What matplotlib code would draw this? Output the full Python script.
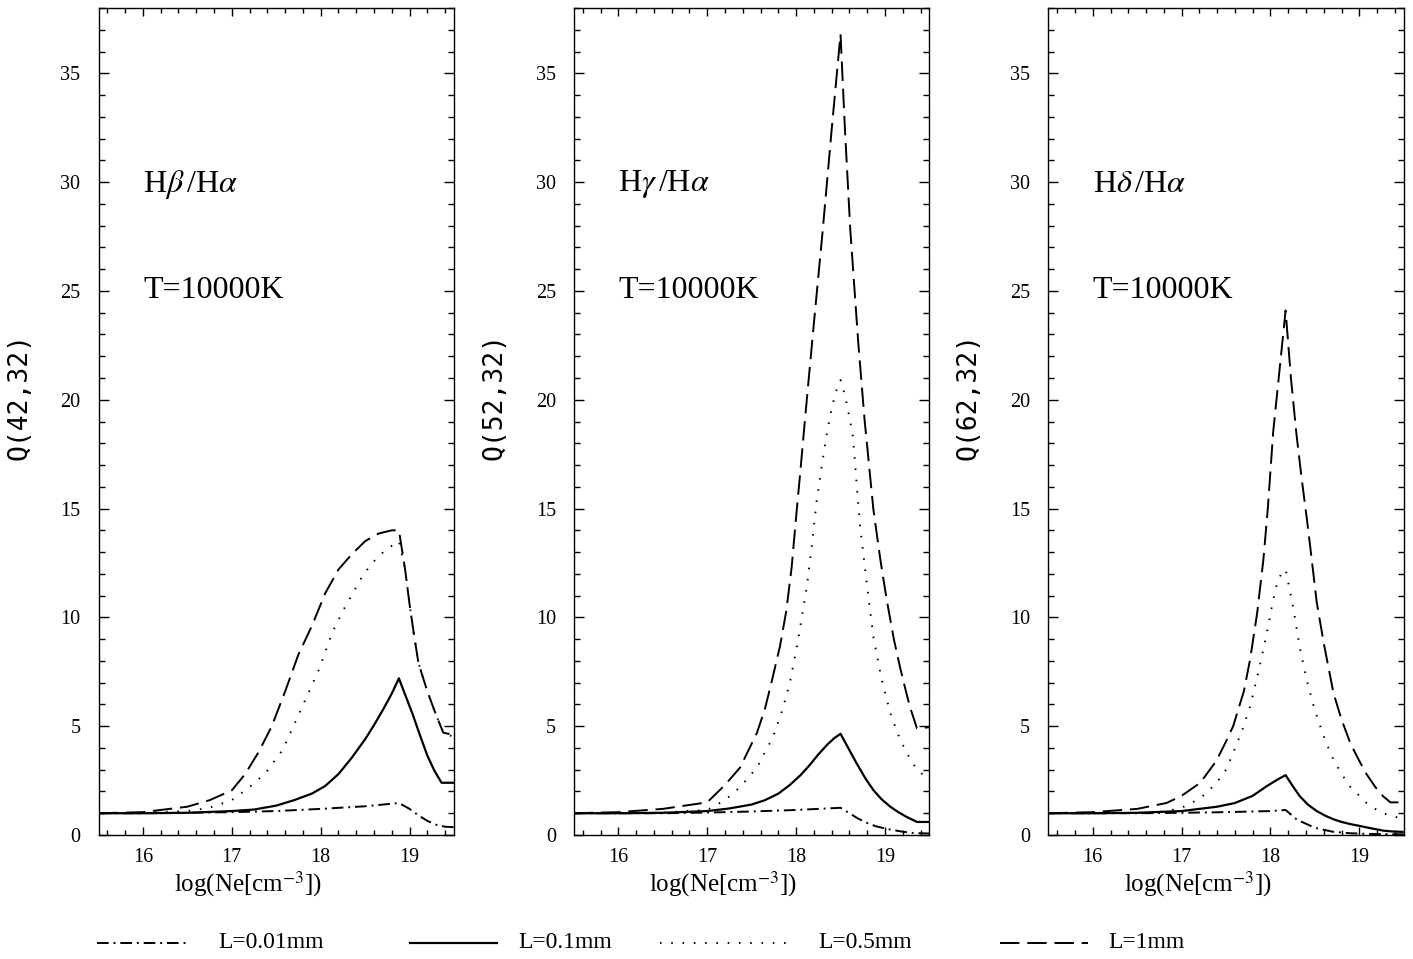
import matplotlib
matplotlib.use("Agg")
import matplotlib.pyplot as plt
from matplotlib.ticker import MultipleLocator

plt.rcParams['font.family'] = ['Liberation Serif', 'DejaVu Serif']
plt.rcParams['mathtext.fontset'] = 'stix'

# ---- data: log(Ne) vs Q ----
# panel 1: Hbeta/Halpha, Q(42,32)
p1_dd_x = [15.5, 16.0, 16.5, 17.0, 17.5, 18.0, 18.5, 18.88, 19.0, 19.1, 19.2, 19.3, 19.4, 19.5]
p1_dd_y = [1.0, 1.0, 1.02, 1.05, 1.1, 1.2, 1.32, 1.47, 1.2, 0.9, 0.65, 0.47, 0.38, 0.36]
p1_so_x = [15.5, 16.0, 16.5, 17.0, 17.25, 17.5, 17.7, 17.9, 18.05, 18.2, 18.35, 18.5, 18.6, 18.7,
           18.8, 18.88, 18.95, 19.03, 19.12, 19.2, 19.28, 19.36, 19.5]
p1_so_y = [1.0, 1.0, 1.02, 1.1, 1.17, 1.35, 1.6, 1.9, 2.25, 2.8, 3.55, 4.4, 5.05, 5.75,
           6.5, 7.2, 6.45, 5.6, 4.55, 3.65, 2.95, 2.4, 2.4]
p1_do_x = [15.5, 16.0, 16.5, 16.75, 17.0, 17.2, 17.38, 17.57, 17.76, 17.98, 18.13, 18.25, 18.36,
           18.47, 18.58, 18.73, 18.88, 18.95, 19.0, 19.05, 19.1, 19.2, 19.3, 19.38, 19.5]
p1_do_y = [1.0, 1.02, 1.1, 1.25, 1.6, 2.2, 2.85, 3.9, 5.6, 7.6, 9.3, 10.3, 11.1,
           11.9, 12.5, 13.1, 13.5, 12.2, 10.6, 9.2, 7.9, 6.6, 5.5, 4.7, 4.5]
p1_da_x = [15.5, 16.0, 16.5, 16.75, 17.0, 17.15, 17.3, 17.45, 17.6, 17.75, 17.9, 18.05, 18.2,
           18.35, 18.5, 18.65, 18.8, 18.88, 18.95, 19.0, 19.05, 19.1, 19.2, 19.3, 19.38, 19.5]
p1_da_y = [1.0, 1.05, 1.3, 1.6, 2.05, 2.8, 3.8, 5.0, 6.6, 8.3, 9.6, 11.1, 12.2,
           12.9, 13.5, 13.85, 14.0, 14.0, 12.2, 10.6, 9.2, 7.9, 6.6, 5.5, 4.7, 4.6]

# panel 2: Hgamma/Halpha, Q(52,32)
p2_dd_x = [15.5, 16.0, 16.5, 17.0, 17.5, 18.0, 18.5, 18.6, 18.7, 18.8, 18.9, 19.0, 19.1, 19.2, 19.3, 19.4, 19.5]
p2_dd_y = [1.0, 1.0, 1.0, 1.03, 1.08, 1.15, 1.25, 1.0, 0.75, 0.55, 0.4, 0.3, 0.22, 0.15, 0.1, 0.08, 0.07]
p2_so_x = [15.5, 16.0, 16.5, 17.0, 17.25, 17.5, 17.65, 17.8, 17.93, 18.05, 18.15, 18.25, 18.35, 18.43, 18.5,
           18.58, 18.68, 18.78, 18.87, 18.96, 19.06, 19.15, 19.24, 19.3, 19.36, 19.5]
p2_so_y = [1.0, 1.0, 1.02, 1.1, 1.22, 1.4, 1.6, 1.9, 2.3, 2.75, 3.2, 3.7, 4.15, 4.45, 4.65,
           4.05, 3.3, 2.6, 2.06, 1.65, 1.3, 1.05, 0.84, 0.72, 0.6, 0.6]
p2_do_x = [15.5, 16.0, 16.5, 17.0, 17.2, 17.37, 17.56, 17.74, 17.85, 17.93, 18.02, 18.12, 18.18, 18.23,
           18.29, 18.34, 18.4, 18.45, 18.5, 18.55, 18.6, 18.64, 18.68, 18.72, 18.8, 18.87, 18.96, 19.06,
           19.15, 19.24, 19.33, 19.43, 19.5]
p2_do_y = [1.0, 1.0, 1.03, 1.15, 1.6, 2.2, 3.1, 4.5, 5.8, 7.0, 8.9, 11.4, 13.4, 15.3,
           17.0, 18.3, 19.6, 20.4, 20.9, 20.2, 19.2, 18.3, 16.2, 14.2, 11.4, 9.1, 7.2, 5.6,
           4.6, 3.8, 3.2, 2.75, 2.7]
p2_da_x = [15.5, 16.0, 16.5, 17.0, 17.2, 17.37, 17.56, 17.65, 17.74, 17.82, 17.89, 17.95, 18.0, 18.05,
           18.1, 18.2, 18.3, 18.4, 18.5, 18.55, 18.61, 18.7, 18.77, 18.87, 18.95, 19.02, 19.1, 19.17,
           19.23, 19.28, 19.36, 19.5]
p2_da_y = [1.0, 1.05, 1.2, 1.5, 2.3, 3.1, 4.7, 5.8, 7.3, 8.7, 10.3, 12.3, 14.6, 16.8,
           19.1, 23.5, 27.8, 32.4, 36.8, 32.4, 27.8, 22.6, 19.1, 14.95, 12.6, 10.8, 9.0, 7.7,
           6.7, 5.9, 4.9, 4.95]

# panel 3: Hdelta/Halpha, Q(62,32)
p3_dd_x = [15.5, 16.0, 16.5, 17.0, 17.5, 18.0, 18.17, 18.3, 18.5, 18.7, 18.9, 19.1, 19.3, 19.5]
p3_dd_y = [1.0, 1.0, 1.0, 1.02, 1.05, 1.1, 1.15, 0.7, 0.33, 0.15, 0.08, 0.05, 0.04, 0.03]
p3_so_x = [15.5, 16.0, 16.5, 17.0, 17.4, 17.6, 17.8, 17.96, 18.08, 18.17, 18.25, 18.33, 18.42, 18.52,
           18.62, 18.71, 18.8, 18.9, 19.0, 19.08, 19.18, 19.27, 19.38, 19.5]
p3_so_y = [1.0, 1.0, 1.02, 1.1, 1.3, 1.47, 1.8, 2.25, 2.55, 2.75, 2.25, 1.78, 1.4, 1.1,
           0.88, 0.72, 0.6, 0.5, 0.42, 0.35, 0.27, 0.2, 0.16, 0.14]
p3_do_x = [15.5, 16.0, 16.5, 16.8, 17.0, 17.21, 17.39, 17.5, 17.58, 17.68, 17.77, 17.87, 17.96, 18.02,
           18.07, 18.12, 18.17, 18.22, 18.26, 18.33, 18.41, 18.48, 18.56, 18.63, 18.71, 18.8, 18.9,
           19.0, 19.08, 19.18, 19.27, 19.36, 19.46, 19.5]
p3_do_y = [1.0, 1.0, 1.02, 1.07, 1.25, 1.68, 2.38, 3.0, 3.77, 4.8, 5.9, 7.6, 9.3, 10.6,
           11.5, 12.0, 12.2, 11.2, 10.35, 8.6, 7.1, 6.0, 5.0, 4.2, 3.45, 2.8, 2.2,
           1.8, 1.47, 1.2, 1.0, 0.87, 0.78, 0.76]
p3_da_x = [15.5, 16.0, 16.5, 16.83, 17.0, 17.21, 17.39, 17.5, 17.58, 17.7, 17.77, 17.85, 17.92, 17.97,
           18.03, 18.1, 18.17, 18.23, 18.29, 18.35, 18.41, 18.46, 18.52, 18.6, 18.71, 18.8, 18.9,
           19.0, 19.08, 19.18, 19.27, 19.35, 19.5]
p3_da_y = [1.0, 1.05, 1.2, 1.47, 1.8, 2.4, 3.4, 4.3, 5.0, 6.6, 8.05, 10.2, 12.65, 15.0,
           18.5, 21.3, 24.1, 21.0, 18.5, 16.4, 14.5, 12.8, 10.7, 8.8, 6.5, 5.3, 4.2,
           3.4, 2.8, 2.2, 1.77, 1.5, 1.5]

ratio_labels = [r'H$\beta\,$/H$\alpha$', r'H$\gamma\,$/H$\alpha$', r'H$\delta\,$/H$\alpha$']
y_labels = ['Q(42,32)', 'Q(52,32)', 'Q(62,32)']
legend_labels = ['L=0.01mm', 'L=0.1mm', 'L=0.5mm', 'L=1mm']

panels = [
    [(p1_dd_x, p1_dd_y), (p1_so_x, p1_so_y), (p1_do_x, p1_do_y), (p1_da_x, p1_da_y)],
    [(p2_dd_x, p2_dd_y), (p2_so_x, p2_so_y), (p2_do_x, p2_do_y), (p2_da_x, p2_da_y)],
    [(p3_dd_x, p3_dd_y), (p3_so_x, p3_so_y), (p3_do_x, p3_do_y), (p3_da_x, p3_da_y)],
]

# line styles in the order of legend_labels
styles = [
    dict(ls=(0, (6, 2.5, 1, 2.5)), lw=1.4),
    dict(ls='-', lw=1.6),
    dict(ls=(0, (0.8, 5)), lw=1.4),
    dict(ls=(0, (10, 4)), lw=1.4),
]

W, H = 1413, 959
fig = plt.figure(figsize=(W / 100, H / 100), dpi=100)
lefts = [98.5, 573.9, 1048.3]
ax_w = 355.5

for i, curves in enumerate(panels):
    ax = fig.add_axes([lefts[i] / W, 124 / H, ax_w / W, 827 / H])
    for (x, y), st in zip(curves, styles):
        ax.plot(x, y, color='black', solid_capstyle='butt', dash_capstyle='butt',
                solid_joinstyle='round', **st)
    ax.set_xlim(15.5, 19.5)
    ax.set_ylim(0, 38)
    ax.xaxis.set_major_locator(MultipleLocator(1))
    ax.xaxis.set_minor_locator(MultipleLocator(0.2))
    ax.yaxis.set_major_locator(MultipleLocator(5))
    ax.yaxis.set_minor_locator(MultipleLocator(1))
    ax.tick_params(which='both', direction='in', top=True, right=True, width=1.0,
                   labelsize=14.5)
    ax.tick_params(axis='y', which='major', length=7.5, pad=13)
    ax.tick_params(axis='y', which='minor', length=4.5)
    ax.tick_params(axis='x', which='major', length=6, pad=9)
    ax.tick_params(axis='x', which='minor', length=3.5)
    for sp in ax.spines.values():
        sp.set_linewidth(1.0)
    ax.set_xlabel(r'log(Ne[cm$^{-3}$])', fontsize=18)
    ax.xaxis.set_label_coords(0.42, -0.042)
    ax.set_ylabel(y_labels[i], family='DejaVu Sans Mono', fontsize=19)
    ax.yaxis.set_label_coords(-0.187, 0.53)
    ax.text(16.0, 29.9, ratio_labels[i], fontsize=23, ha='left', va='center')
    ax.text(16.0, 25.0, 'T=10000K', fontsize=23, ha='left', va='center')

# legend row along the bottom
leg = fig.add_axes([0, 0, 1, 1], facecolor='none')
leg.set_xlim(0, W)
leg.set_ylim(H, 0)
leg.axis('off')
sample_x = [(97, 190), (410, 497), (660, 795), (1000, 1088)]
text_x = [218, 518, 818, 1108]
for (x0, x1), tx, lab, st in zip(sample_x, text_x, legend_labels, styles):
    leg.plot([x0, x1], [943, 943], color='black', dash_capstyle='butt', **st)
    leg.text(tx, 943, lab, fontsize=17, ha='left', va='center')

fig.savefig('out.png', dpi=100)
